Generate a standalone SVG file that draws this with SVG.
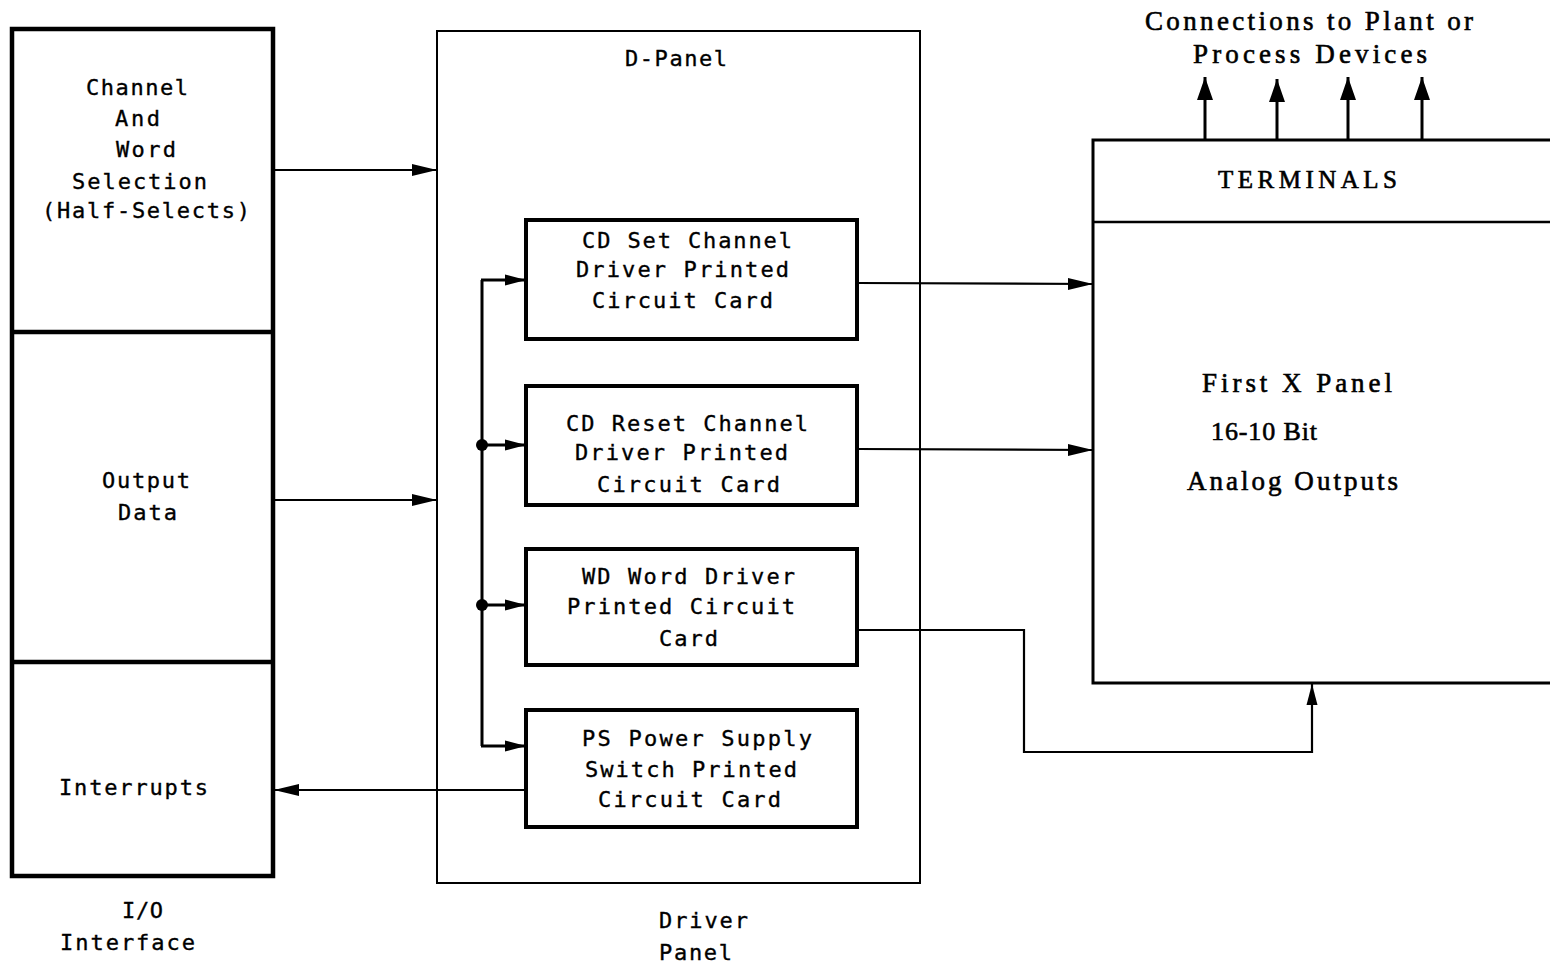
<svg xmlns="http://www.w3.org/2000/svg" width="1550" height="968" viewBox="0 0 1550 968">
  <style>
    .mono { font-family: "DejaVu Sans Mono", "Liberation Mono", monospace; font-size: 22px; fill: #000; stroke: #000; stroke-width: 0.35; }
    .serif { font-family: "Liberation Serif", "DejaVu Serif", serif; font-size: 27px; fill: #000; stroke: #000; stroke-width: 0.6; }
    .heavy { fill: #fff; stroke: #000; stroke-width: 4.5; }
    .card { fill: #fff; stroke: #000; stroke-width: 4; }
    .thin { fill: none; stroke: #000; stroke-width: 2; }
    .wire { fill: none; stroke: #000; stroke-width: 2.2; }
    .wire-b { fill: none; stroke: #000; stroke-width: 3; }
  </style>
  <defs>
    <marker id="arr" markerUnits="userSpaceOnUse" markerWidth="26" markerHeight="14" refX="25" refY="7" orient="auto">
      <path d="M0,1 L25,7 L0,13 Z" fill="#000"/>
    </marker>
    <marker id="arr-s" markerUnits="userSpaceOnUse" markerWidth="22" markerHeight="14" refX="21" refY="7" orient="auto">
      <path d="M0,1.5 L21,7 L0,12.5 Z" fill="#000"/>
    </marker>
    <marker id="arr-up" markerUnits="userSpaceOnUse" markerWidth="24" markerHeight="18" refX="23" refY="9" orient="auto">
      <path d="M0,1 L23,9 L0,17 Z" fill="#000"/>
    </marker>
  </defs>

  <rect width="1550" height="968" fill="#fff"/>

  <!-- I/O interface column -->
  <g id="io-interface">
    <rect class="heavy" x="12" y="29" width="261" height="847"/>
    <line x1="12" y1="332" x2="273" y2="332" stroke="#000" stroke-width="4.5"/>
    <line x1="12" y1="662" x2="273" y2="662" stroke="#000" stroke-width="4.5"/>
    <text class="mono" x="86" y="95" textLength="102" lengthAdjust="spacing">Channel</text>
    <text class="mono" x="115" y="126" textLength="45" lengthAdjust="spacing">And</text>
    <text class="mono" x="116" y="157" textLength="60" lengthAdjust="spacing">Word</text>
    <text class="mono" x="72" y="189" textLength="135" lengthAdjust="spacing">Selection</text>
    <text class="mono" x="42" y="218" textLength="208" lengthAdjust="spacing">(Half-Selects)</text>
    <text class="mono" x="102" y="488" textLength="88" lengthAdjust="spacing">Output</text>
    <text class="mono" x="118" y="520" textLength="59" lengthAdjust="spacing">Data</text>
    <text class="mono" x="59" y="795" textLength="149" lengthAdjust="spacing">Interrupts</text>
    <text class="mono" x="122" y="918" textLength="41" lengthAdjust="spacing">I/O</text>
    <text class="mono" x="60" y="950" textLength="135" lengthAdjust="spacing">Interface</text>
  </g>

  <!-- Driver panel enclosure -->
  <g id="d-panel">
    <rect class="thin" x="437" y="31" width="483" height="852"/>
    <text class="mono" x="625" y="66" textLength="102" lengthAdjust="spacing">D-Panel</text>
    <text class="mono" x="659" y="928" textLength="89" lengthAdjust="spacing">Driver</text>
    <text class="mono" x="659" y="960" textLength="73" lengthAdjust="spacing">Panel</text>
  </g>

  <g id="cd-set-card">
    <rect class="card" x="526" y="220" width="331" height="119"/>
    <text class="mono" x="582" y="248" textLength="210" lengthAdjust="spacing">CD Set Channel</text>
    <text class="mono" x="576" y="277" textLength="213" lengthAdjust="spacing">Driver Printed</text>
    <text class="mono" x="592" y="308" textLength="181" lengthAdjust="spacing">Circuit Card</text>
  </g>

  <g id="cd-reset-card">
    <rect class="card" x="526" y="386" width="331" height="119"/>
    <text class="mono" x="566" y="431" textLength="242" lengthAdjust="spacing">CD Reset Channel</text>
    <text class="mono" x="575" y="460" textLength="213" lengthAdjust="spacing">Driver Printed</text>
    <text class="mono" x="597" y="492" textLength="183" lengthAdjust="spacing">Circuit Card</text>
  </g>

  <g id="wd-card">
    <rect class="card" x="526" y="549" width="331" height="116"/>
    <text class="mono" x="582" y="584" textLength="213" lengthAdjust="spacing">WD Word Driver</text>
    <text class="mono" x="567" y="614" textLength="228" lengthAdjust="spacing">Printed Circuit</text>
    <text class="mono" x="659" y="646" textLength="59" lengthAdjust="spacing">Card</text>
  </g>

  <g id="ps-card">
    <rect class="card" x="526" y="710" width="331" height="117"/>
    <text class="mono" x="582" y="746" textLength="230" lengthAdjust="spacing">PS Power Supply</text>
    <text class="mono" x="585" y="777" textLength="212" lengthAdjust="spacing">Switch Printed</text>
    <text class="mono" x="598" y="807" textLength="183" lengthAdjust="spacing">Circuit Card</text>
  </g>

  <!-- First X panel with terminal strip -->
  <g id="x-panel">
    <path class="wire-b" d="M1560,140 H1093 V683 H1560"/>
    <line x1="1093" y1="222" x2="1560" y2="222" stroke="#000" stroke-width="2.5"/>
    <text class="serif" x="1218" y="188" textLength="179" lengthAdjust="spacing" style="font-size:25px">TERMINALS</text>
    <text class="serif" x="1202" y="392" textLength="190" lengthAdjust="spacing">First X Panel</text>
    <text class="serif" x="1211" y="440" textLength="106" lengthAdjust="spacing" style="font-size:26px">16-10 Bit</text>
    <text class="serif" x="1187" y="490" textLength="211" lengthAdjust="spacing">Analog Outputs</text>
  </g>

  <g id="plant-label">
    <text class="serif" x="1145" y="30" textLength="328" lengthAdjust="spacing">Connections to Plant or</text>
    <text class="serif" x="1193" y="63" textLength="234" lengthAdjust="spacing">Process Devices</text>
  </g>

  <!-- Signal paths -->
  <g id="connectors">
    <line class="wire" x1="273" y1="170" x2="437" y2="170" marker-end="url(#arr)"/>
    <line class="wire" x1="273" y1="500" x2="437" y2="500" marker-end="url(#arr)"/>

    <!-- internal bus feeding the four cards -->
    <line class="wire-b" x1="482" y1="280" x2="482" y2="746"/>
    <line class="wire-b" x1="481" y1="280" x2="526" y2="280" marker-end="url(#arr-s)"/>
    <line class="wire-b" x1="482" y1="445" x2="526" y2="445" marker-end="url(#arr-s)"/>
    <line class="wire-b" x1="482" y1="605" x2="526" y2="605" marker-end="url(#arr-s)"/>
    <line class="wire-b" x1="481" y1="746" x2="526" y2="746" marker-end="url(#arr-s)"/>
    <circle cx="482" cy="445" r="6" fill="#000"/>
    <circle cx="482" cy="605" r="6" fill="#000"/>

    <line class="wire" x1="857" y1="283" x2="1093" y2="284" marker-end="url(#arr)"/>
    <line class="wire" x1="857" y1="449" x2="1093" y2="450" marker-end="url(#arr)"/>
    <path class="wire" d="M857,630 H1024 V752 H1312 V684" marker-end="url(#arr-s)"/>

    <line class="wire" x1="526" y1="790" x2="274" y2="790" marker-end="url(#arr)"/>

    <line class="wire-b" x1="1205" y1="140" x2="1205" y2="77" marker-end="url(#arr-up)"/>
    <line class="wire-b" x1="1277" y1="140" x2="1277" y2="79" marker-end="url(#arr-up)"/>
    <line class="wire-b" x1="1348" y1="140" x2="1348" y2="77" marker-end="url(#arr-up)"/>
    <line class="wire-b" x1="1422" y1="140" x2="1422" y2="77" marker-end="url(#arr-up)"/>
  </g>
</svg>
